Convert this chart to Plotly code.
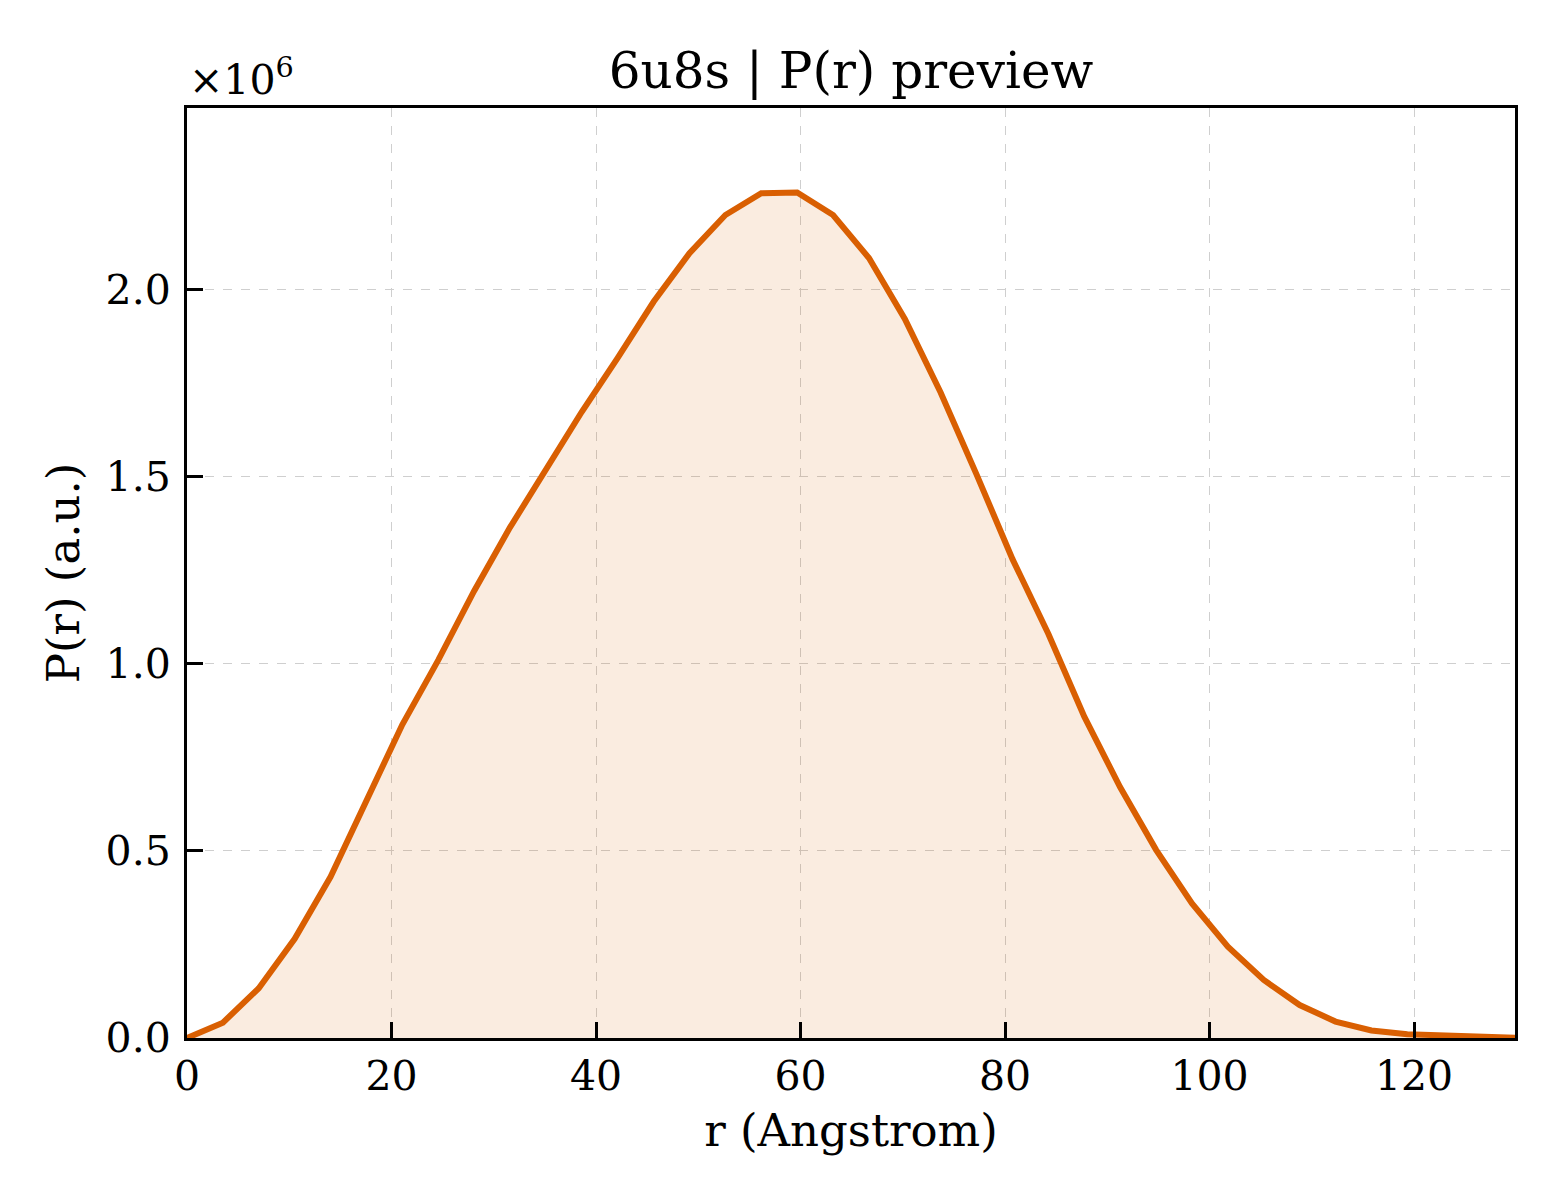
"""P(r) preview for 6u8s: pair distance distribution drawn as a filled line"""

import plotly.graph_objects as go

r_angstrom = [0.00, 3.51, 7.02, 10.53, 14.04, 17.55, 21.06, 24.57, 28.08, 31.59,
              35.10, 38.61, 42.12, 45.63, 49.14, 52.65, 56.16, 59.67, 63.18, 66.69,
              70.20, 73.71, 77.22, 80.73, 84.24, 87.75, 91.26, 94.77, 98.28, 101.79,
              105.30, 108.81, 112.32, 115.83, 119.34, 122.85, 126.36, 129.87]
p_r_millions = [0.000, 0.041, 0.133, 0.265, 0.431, 0.635, 0.838, 1.010, 1.195, 1.365,
                1.522, 1.674, 1.818, 1.968, 2.098, 2.200, 2.258, 2.260, 2.200, 2.085,
                1.922, 1.725, 1.506, 1.280, 1.080, 0.859, 0.670, 0.503, 0.360, 0.244,
                0.155, 0.088, 0.044, 0.020, 0.010, 0.006, 0.003, 0.001]

x_ticks = [0, 20, 40, 60, 80, 100, 120]
y_ticks = [0.0, 0.5, 1.0, 1.5, 2.0]

LINE = '#d95f02'
FILL = 'rgba(217,95,2,0.12)'
FONT = 'DejaVu Serif'

fig = go.Figure()
fig.add_trace(go.Scatter(x=r_angstrom, y=p_r_millions, mode='lines',
                         line=dict(color=LINE, width=6),
                         fill='tozeroy', fillcolor=FILL, showlegend=False))

axis_style = dict(showline=True, linecolor='black', linewidth=3, mirror=True,
                  ticks='inside', ticklen=16, tickwidth=3, tickcolor='black',
                  showgrid=True, gridcolor='#cfcfcf', gridwidth=1.3, griddash='dash',
                  zeroline=False, tickfont=dict(family=FONT, size=41, color='black'))

fig.update_xaxes(range=[0, r_angstrom[-1]], tickvals=x_ticks, **axis_style,
                 ticklabelstandoff=0,
                 title=dict(text='r (Angstrom)', font=dict(family=FONT, size=45, color='black'),
                            standoff=16))
fig.update_yaxes(range=[0, max(p_r_millions) * 1.1], tickvals=y_ticks, tickformat='.1f',
                 **axis_style, ticklabelstandoff=5,
                 title=dict(text='P(r) (a.u.)', font=dict(family=FONT, size=45, color='black'),
                            standoff=12))

# scale factor shown above the y axis, matplotlib style
fig.add_annotation(text='×10<sup>6</sup>', xref='paper', yref='paper', x=0, y=1,
                   xanchor='left', yanchor='bottom', yshift=2, showarrow=False,
                   font=dict(family=FONT, size=41, color='black'))

fig.update_layout(width=1560, height=1200,
                  margin=dict(l=179, r=53, t=100, b=170),
                  paper_bgcolor='white', plot_bgcolor='white',
                  title=dict(text='6u8s | P(r) preview', x=0.5, xref='paper',
                             y=1 - 62 / 1200, yref='container', yanchor='middle',
                             font=dict(family=FONT, size=50, color='black')))

fig.write_html('out.html')
